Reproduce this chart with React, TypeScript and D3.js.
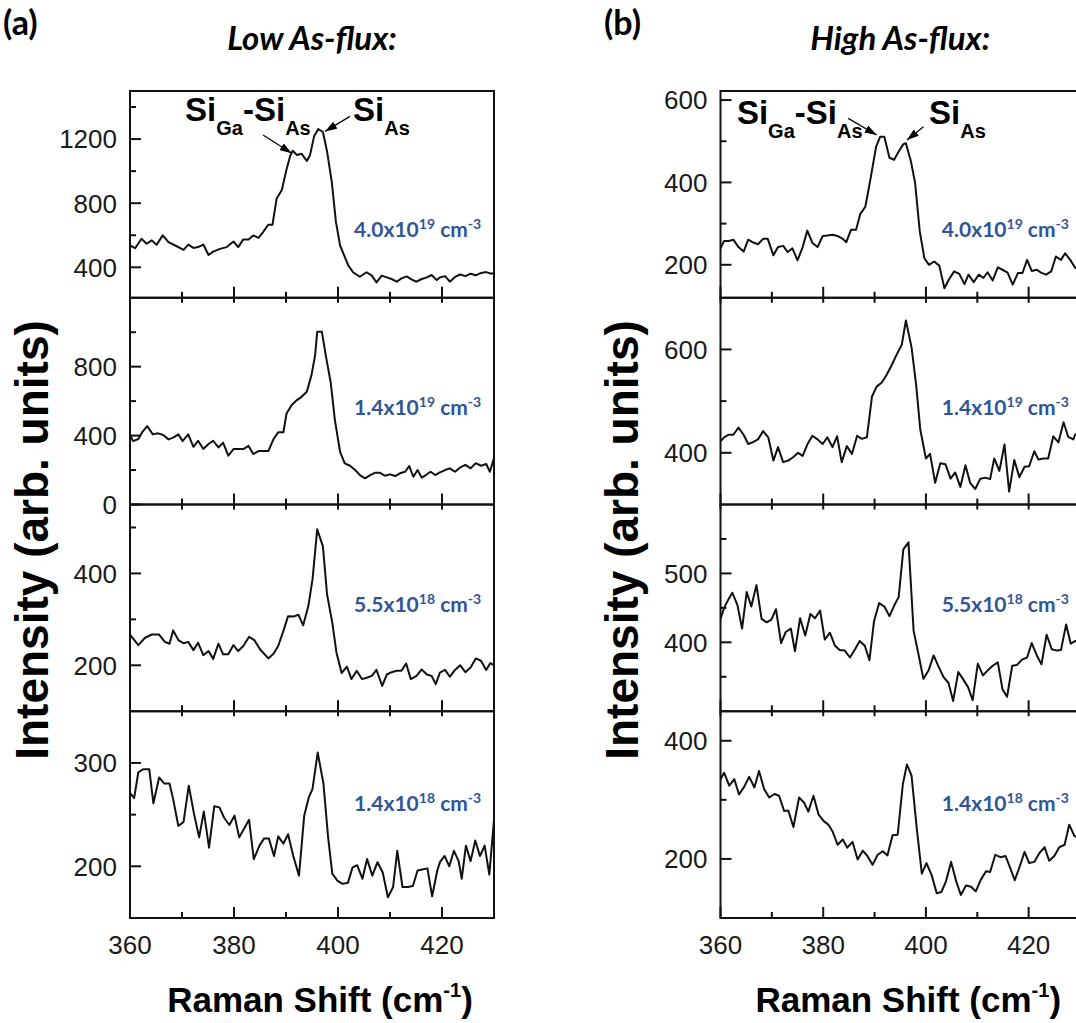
import React from "react";
import * as d3 from "d3";

// ---------- axis ticks ----------
const X_MAJOR = [360, 380, 400, 420];
const X_MINOR = [370, 390, 410];

// ---------- (a) Low As-flux ----------
const low40X = [360,361.0,362.2,363.2,364.2,365.1,366.3,367.4,368.7,370.3,371.2,372.2,373.1,374.1,375.1,376.0,377.3,378.6,379.9,380.8,381.8,382.8,383.7,384.7,385.6,386.6,387.4,388.2,389.2,390.0,390.8,391.3,392.1,393.0,394.0,394.6,395.4,396.2,397.1,397.9,398.8,399.6,400.4,401.2,402.0,402.9,404.2,405.5,406.5,407.4,408.4,409.4,410.3,411.3,412.2,413.2,414.2,415.1,416.1,417.1,418.0,419.0,419.6,420.6,421.5,422.5,423.5,424.5,425.5,426.5,427.5,428.5,429.5,430];
const low40Y = [536,519,578,547,568,540,599,557,536,509,542,521,526,542,477,498,515,526,561,526,574,574,599,584,620,666,666,829,882,997,1095,1127,1101,1108,1064,1097,1217,1263,1244,1122,934,683,536,473,410,369,341,369,348,306,348,337,327,310,331,343,323,310,327,337,352,320,337,345,310,340,355,345,360,350,365,370,360,365];

const low14aX = [360,360.6,361.6,362.4,363.3,364.4,365.4,366.4,367.4,368.3,369.3,370.1,371.2,372.2,373.1,374.1,375.1,376.0,377.0,377.9,378.9,379.9,380.8,381.8,382.8,383.7,384.7,385.6,386.6,387.6,388.5,389.5,390.1,391.1,392.1,393.0,394.0,394.9,395.6,396.0,396.9,397.7,398.6,399.4,400.4,401.3,402.3,403.3,404.2,405.2,406.2,407.1,408.1,409.0,410.0,411.0,411.9,412.9,413.7,414.5,415.3,416.1,416.9,417.8,418.7,419.6,420.6,421.5,422.5,423.5,424.5,425.5,426.5,427.5,428.5,429.2,430];
const low14aY = [403,368,380,422,455,407,413,403,378,388,407,368,407,335,370,322,351,370,331,359,283,322,322,322,340,293,310,310,310,380,419,419,528,577,606,625,654,751,866,1002,1002,857,708,490,306,239,225,200,171,152,171,184,184,167,175,165,181,190,223,161,200,156,171,190,171,186,200,210,190,215,230,210,240,225,235,190,270];

const low55X = [360,361.6,362.9,364.2,365.6,366.7,367.6,368.3,369.3,370.3,371.2,372.2,373.1,374.1,375.1,376.0,377.0,377.9,378.9,379.9,380.8,381.8,382.9,383.9,385.0,386.6,387.6,388.5,389.5,390.4,391.4,392.4,393.3,394.3,395.1,396.0,397.1,397.9,398.9,399.7,400.7,401.7,402.6,403.6,404.6,405.5,406.5,407.4,408.5,409.4,410.3,411.3,412.2,413.1,414.0,415.1,416.1,417.1,418.0,418.8,419.6,420.6,421.5,422.5,423.5,424.5,425.5,426.5,427.5,428.5,429.3,430];
const low55Y = [267,244,260,267,267,251,247,276,255,248,251,233,249,222,231,214,247,224,224,244,231,242,262,255,235,215,225,242,275,307,306,310,287,329,387,496,459,354,293,228,183,197,170,188,170,173,177,190,155,180,185,188,188,204,170,177,191,180,177,159,184,190,175,190,200,185,195,215,210,190,205,200];

const low14bX = [360,360.8,361.6,362.6,363.7,364.5,365.6,366.6,367.6,368.3,369.3,370.3,371.3,372.3,373.3,374.2,375.2,376.2,377.2,378.1,379.1,380.1,381.0,381.9,382.9,383.8,384.9,385.8,386.7,387.7,388.5,389.5,390.4,391.4,392.5,393.5,394.4,395.1,396.1,397.2,398.1,398.9,399.9,400.9,401.9,402.8,403.7,404.7,405.6,406.6,407.6,408.6,409.6,410.6,411.4,412.4,413.4,414.4,415.3,416.2,417.2,418.1,419.1,419.6,420.5,421.4,422.3,423.2,423.8,424.6,425.5,426.4,427.3,428.2,429.1,430];
const low14bY = [271,266,291,294,294,261,286,280,280,265,239,243,278,251,228,253,218,258,257,247,240,249,228,236,245,207,220,227,227,210,229,222,231,210,191,249,267,275,310,280,228,193,186,183,184,199,201,188,207,191,204,194,170,180,215,180,180,181,196,197,198,171,196,204,210,200,215,205,188,220,205,225,210,220,192,245];

// ---------- (b) High As-flux ----------
const high40X = [360,360.7,361.6,362.5,363.5,364.5,365.4,366.4,367.3,368.3,369.2,370.3,371.2,372.2,373.1,374.0,375.0,376.0,376.9,377.9,378.9,379.9,380.8,381.8,382.8,383.8,384.5,385.4,386.4,387.2,388.2,389.2,390.3,391.1,391.9,392.9,393.8,394.7,395.6,396.1,397.1,397.9,398.8,399.7,400.6,401.6,402.6,403.6,404.5,405.5,406.5,407.5,408.3,409.3,410.3,411.2,412.0,413.0,414.0,414.9,415.9,416.9,417.9,418.8,419.7,420.6,421.6,422.4,423.4,424.4,425.3,426.3,427.1,428.1,429.1,430];
const high40Y = [240,258,258,261,243,232,261,254,250,263,263,223,243,246,231,240,211,243,283,253,243,270,271,273,270,263,255,285,285,323,341,408,487,511,511,460,455,475,493,495,450,398,281,216,200,208,198,143,165,184,178,153,176,158,176,168,182,162,194,188,181,152,180,180,212,185,188,181,176,184,220,212,228,212,192,195];

const high14aX = [360,360.7,361.6,362.5,363.5,364.5,365.4,366.4,367.3,368.3,369.3,370.3,371.2,372.2,373.2,374.2,375.1,376.0,376.9,377.9,378.9,379.9,380.8,381.8,382.7,383.6,384.6,385.6,386.6,387.5,388.5,389.5,390.4,391.4,392.3,393.3,394.3,395.3,396.1,397.2,398.1,398.9,400.0,400.8,401.8,402.8,403.8,404.8,405.7,406.7,407.7,408.6,409.6,410.6,411.6,412.5,413.3,414.3,415.3,416.2,417.2,418.2,419.2,420.1,421.1,421.9,422.9,423.8,424.8,425.8,426.8,427.7,428.7,429.1,430];
const high14aY = [422,430,435,435,449,435,417,421,426,442,430,385,411,382,385,392,400,394,416,433,426,417,430,411,432,382,413,398,433,427,430,509,528,536,550,569,590,609,656,604,531,445,389,398,342,380,378,350,362,334,376,342,330,350,352,349,389,365,416,325,386,353,373,374,403,387,389,389,432,420,459,431,426,436,430];

const high55X = [360,360.7,361.6,362.3,363.3,364.2,365.1,366.0,367.0,368.0,369.0,369.9,370.8,371.8,372.7,373.7,374.5,375.5,376.5,377.5,378.4,379.4,380.3,381.3,382.3,383.2,384.2,385.2,386.2,387.1,388.1,389.0,389.9,390.9,391.9,392.9,393.8,394.7,395.6,396.6,397.6,398.6,399.5,400.5,401.5,402.5,403.4,404.4,405.3,406.3,407.2,408.2,409.1,410.1,411.1,412.0,413.0,414.0,414.9,415.8,416.8,417.7,418.7,419.7,420.6,421.6,422.5,423.5,424.5,425.5,426.3,427.3,428.2,429.1,430];
const high55Y = [434,450,463,472,454,420,473,452,483,434,429,433,448,399,415,420,387,435,410,441,435,446,404,414,395,389,388,378,390,402,395,374,431,457,452,438,453,466,535,545,417,381,347,359,381,364,350,341,315,357,347,335,316,369,352,359,366,371,332,321,366,367,375,378,399,381,368,411,390,388,389,426,398,402,400];

const high14bX = [360,360.7,361.7,362.7,363.6,364.6,365.6,366.6,367.5,368.5,369.5,370.5,371.4,372.4,373.2,374.2,375.3,376.3,377.1,378.1,379.1,380.1,381.0,381.8,382.8,383.8,384.7,385.7,386.7,387.7,388.6,389.6,390.6,391.6,392.5,393.5,394.5,395.5,396.3,397.2,398.2,399.2,400.1,401.1,402.1,403.0,403.9,404.9,405.9,406.8,407.8,408.8,409.7,410.7,411.7,412.5,413.5,414.5,415.5,416.4,417.3,418.3,419.2,420.1,421.1,422.1,423.1,424.0,425.0,426.0,427.0,427.9,428.9,430];
const high14bY = [335,346,324,335,309,322,339,321,349,318,304,310,307,281,282,254,304,295,280,307,275,264,258,247,224,233,219,229,199,214,205,190,207,213,206,240,241,326,360,341,253,175,193,173,142,144,162,195,162,139,155,153,145,165,179,178,207,203,205,185,164,188,212,193,195,210,220,197,205,220,224,258,239,235];

// ---------- per-panel axes & labels ----------
const lowDomains: [number, number][] = [[210, 1500], [0, 1200], [100, 550], [150, 350]];
const lowMajor = [[400, 800, 1200], [0, 400, 800], [200, 400], [200, 300]];
const lowMinor = [[600, 1000, 1400], [200, 600, 1000], [300, 500], [250]];
const highDomains: [number, number][] = [[120, 622], [300, 700], [300, 600], [100, 450]];
const highMajor = [[200, 400, 600], [400, 600], [400, 500], [200, 400]];
const highMinor = [[300, 500], [500], [350, 450, 550], [300]];

const concMant = ["4.0x10", "1.4x10", "5.5x10", "1.4x10"];
const concExp = ["19", "19", "18", "18"];

const zip = (xs: number[], ys: number[]) => xs.slice(0, Math.min(xs.length, ys.length)).map((x, i) => [x, ys[i]] as [number, number]);

const lowSeries = [zip(low40X, low40Y), zip(low14aX, low14aY), zip(low55X, low55Y), zip(low14bX, low14bY)];
const highSeries = [zip(high40X, high40Y), zip(high14aX, high14aY), zip(high55X, high55Y), zip(high14bX, high14bY)];

const FONT = "'Liberation Sans', Arial, Helvetica, sans-serif";
const CAL = "Lato, 'Open Sans', sans-serif";
const BLUE = "#2f5597";

type PlotDef = {
  x0: number; x1: number;
  series: [number, number][][];
  domains: [number, number][];
  major: number[][]; minor: number[][];
  title: string; tag: string; tagX: number; ylabX: number;
  annot: { tx1: number; tx2: number; tipA: [number, number]; tipB: [number, number]; offA: [number, number]; offB: [number, number]; base: number };
};

const App = () => {
  const W = 1076, H = 1023;
  const top0 = 91, bottom = 918;
  const ph = (bottom - top0) / 4;
  const concOffsets = [145.7, 117.7, 107.5, 100];

  const plots: PlotDef[] = [
    {
      x0: 130, x1: 494, series: lowSeries, domains: lowDomains, major: lowMajor, minor: lowMinor,
      title: "Low As-flux:", tag: "(a)", tagX: 3, ylabX: 31,
      annot: { tx1: 370.6, tx2: 402.9, tipA: [391.1, 1112], tipB: [397.5, 1248], offA: [-28.7, -18.3], offB: [25, -15], base: 121 },
    },
    {
      x0: 720.5, x1: 1080, series: highSeries, domains: highDomains, major: highMajor, minor: highMinor,
      title: "High As-flux:", tag: "(b)", tagX: 604, ylabX: 621,
      annot: { tx1: 363.2, tx2: 400.6, tipA: [390.4, 515], tipB: [396.3, 503], offA: [-28.4, -16.7], offB: [16.6, -13.3], base: 124.3 },
    },
  ];

  return (
    <svg width={W} height={H} viewBox={`0 0 ${W} ${H}`} style={{ display: "block", background: "#fff", position: "absolute", left: 0, top: 0 }}>
      <defs>
        <marker id="ah" viewBox="0 0 12 8" refX="12" refY="4" markerWidth="12" markerHeight="8" markerUnits="userSpaceOnUse" orient="auto">
          <path d="M0,0 L12,4 L0,8 Z" fill="#000" />
        </marker>
        {plots.map((p, pi) =>
          [0, 1, 2, 3].map((k) => (
            <clipPath id={`clip-${pi}-${k}`} key={`c${pi}${k}`}>
              <rect x={p.x0} y={top0 + k * ph} width={p.x1 - p.x0} height={ph} />
            </clipPath>
          ))
        )}
      </defs>
      {plots.map((p, pi) => {
        const x = d3.scaleLinear().domain([360, 430]).range([p.x0, p.x1]);
        const cx = (p.x0 + p.x1) / 2;
        const ylabMid = 540;
        const y0s = p.domains.map((d, k) => d3.scaleLinear().domain(d).range([top0 + (k + 1) * ph, top0 + k * ph]));
        return (
          <g key={pi}>
            <text x={p.tagX} y={35} fontFamily={CAL} fontWeight={700} fontSize={34} fill="#000">{p.tag}</text>
            <text x={cx} y={50} textAnchor="middle" fontFamily={CAL} fontWeight={700} fontStyle="italic" fontSize={33} fill="#000">{p.title}</text>
            <text transform={`translate(${p.ylabX},${ylabMid}) rotate(-90)`} textAnchor="middle" dy="0.36em" fontFamily={FONT} fontWeight={700} fontSize={46} fill="#000">Intensity (arb. units)</text>
            {p.series.map((s, k) => {
              const y = y0s[k];
              const pt = top0 + k * ph;
              const pb = pt + ph;
              const line = d3.line<[number, number]>().x((d) => x(d[0])).y((d) => y(d[1]));
              return (
                <g key={k}>
                  <path d={line(s) || ""} fill="none" stroke="#111" strokeWidth={2} strokeLinejoin="round" clipPath={`url(#clip-${pi}-${k})`} />
                  {p.major[k].map((t) => (
                    <g key={`M${t}`}>
                      <line x1={p.x0} x2={p.x0 + 11} y1={y(t)} y2={y(t)} stroke="#111" strokeWidth={2} />
                      <text x={p.x0 - 13} y={y(t)} dy="0.36em" textAnchor="end" fontFamily={FONT} fontSize={26} fill="#1a1a1a">{t}</text>
                    </g>
                  ))}
                  {p.minor[k].map((t) => (
                    <line key={`m${t}`} x1={p.x0} x2={p.x0 + 6} y1={y(t)} y2={y(t)} stroke="#111" strokeWidth={2} />
                  ))}
                  {X_MAJOR.map((t) => (
                    <g key={`xM${t}`}>
                      <line x1={x(t)} x2={x(t)} y1={pb} y2={pb - 11} stroke="#111" strokeWidth={2} />
                      {k > 0 && <line x1={x(t)} x2={x(t)} y1={pt} y2={pt + 5} stroke="#111" strokeWidth={2} />}
                    </g>
                  ))}
                  {X_MINOR.map((t) => (
                    <g key={`xm${t}`}>
                      <line x1={x(t)} x2={x(t)} y1={pb} y2={pb - 6} stroke="#111" strokeWidth={2} />
                      {k > 0 && <line x1={x(t)} x2={x(t)} y1={pt} y2={pt + 5} stroke="#111" strokeWidth={2} />}
                    </g>
                  ))}
                  <rect x={p.x0} y={pt} width={p.x1 - p.x0} height={ph} fill="none" stroke="#111" strokeWidth={2} />
                  <text x={x(403.1)} y={pt + concOffsets[k]} fontFamily={CAL} fontWeight={700} fontSize={21} fill={BLUE}>
                    {concMant[k]}
                    <tspan dy={-8} fontSize={14}>{concExp[k]}</tspan>
                    <tspan dy={8} fontSize={21}> cm</tspan>
                    <tspan dy={-8} fontSize={14}>-3</tspan>
                  </text>
                </g>
              );
            })}
            {X_MAJOR.map((t) => (
              <text key={`xl${t}`} x={x(t)} y={954} textAnchor="middle" fontFamily={FONT} fontSize={26} fill="#1a1a1a">{t}</text>
            ))}
            <text x={cx + 8} y={1012} textAnchor="middle" fontFamily={FONT} fontWeight={700} fontSize={35} fill="#000">
              Raman Shift (cm<tspan dy={-15} fontSize={20}>-1</tspan><tspan dy={15}>)</tspan>
            </text>
            {(() => {
              const a = p.annot;
              const y = y0s[0];
              const ta = [x(a.tipA[0]), y(a.tipA[1])];
              const tb = [x(a.tipB[0]), y(a.tipB[1])];
              return (
                <g>
                  <text x={x(a.tx1)} y={a.base} fontFamily={FONT} fontWeight={700} fontSize={33} fill="#000">
                    Si<tspan dy={14} fontSize={20}>Ga</tspan><tspan dy={-14}>-Si</tspan><tspan dy={14} fontSize={20}>As</tspan>
                  </text>
                  <text x={x(a.tx2)} y={a.base} fontFamily={FONT} fontWeight={700} fontSize={33} fill="#000">
                    Si<tspan dy={14} fontSize={20}>As</tspan>
                  </text>
                  <line x1={ta[0] + a.offA[0]} y1={ta[1] + a.offA[1]} x2={ta[0]} y2={ta[1]} stroke="#000" strokeWidth={1.2} markerEnd="url(#ah)" />
                  <line x1={tb[0] + a.offB[0]} y1={tb[1] + a.offB[1]} x2={tb[0]} y2={tb[1]} stroke="#000" strokeWidth={1.2} markerEnd="url(#ah)" />
                </g>
              );
            })()}
          </g>
        );
      })}
    </svg>
  );
};

export default App;
